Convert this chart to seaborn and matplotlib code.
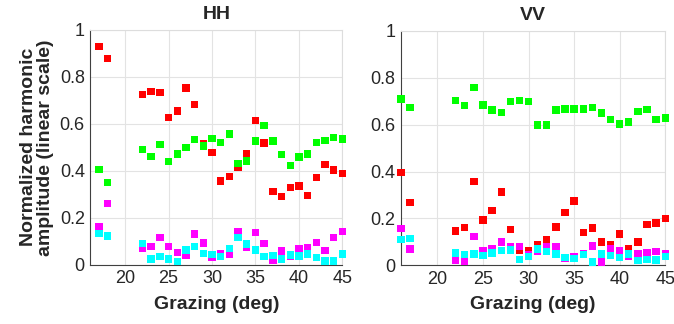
import pandas as pd
import seaborn as sns
import matplotlib.pyplot as plt

# grazing angles (deg)
hh_grazing = [17, 18, 22, 23, 24, 25, 26, 27, 28, 29, 30, 31, 32, 33, 34, 35, 36, 37, 38, 39, 40, 41, 42, 43, 44, 45]
vv_grazing = [16, 17, 22, 23, 24, 25, 26, 27, 28, 29, 30, 31, 32, 33, 34, 35, 36, 37, 38, 39, 40, 41, 42, 43, 44, 45]

# HH normalized harmonic amplitudes
hh_red = [0.93, 0.877, 0.725, 0.736, 0.732, 0.627, 0.655, 0.753, 0.683, 0.517, 0.477, 0.356, 0.376,
          0.413, 0.471, 0.613, 0.518, 0.312, 0.289, 0.329, 0.335, 0.294, 0.37, 0.427, 0.403, 0.389]
hh_green = [0.406, 0.349, 0.491, 0.461, 0.512, 0.438, 0.471, 0.5, 0.532, 0.506, 0.538, 0.521, 0.556,
            0.431, 0.441, 0.526, 0.592, 0.526, 0.468, 0.423, 0.458, 0.471, 0.521, 0.529, 0.542, 0.535]
hh_magenta = [0.161, 0.26, 0.07, 0.077, 0.117, 0.077, 0.051, 0.041, 0.13, 0.092, 0.03, 0.046, 0.046,
              0.14, 0.072, 0.136, 0.091, 0.017, 0.058, 0.035, 0.07, 0.074, 0.095, 0.06, 0.117, 0.141]
hh_cyan = [0.134, 0.122, 0.091, 0.024, 0.034, 0.024, 0.014, 0.062, 0.077, 0.048, 0.044, 0.034, 0.07,
           0.117, 0.088, 0.062, 0.034, 0.038, 0.024, 0.041, 0.037, 0.046, 0.031, 0.016, 0.016, 0.046]

# VV normalized harmonic amplitudes
vv_red = [0.397, 0.268, 0.146, 0.161, 0.357, 0.194, 0.235, 0.312, 0.153, 0.063, 0.063, 0.087, 0.109,
          0.164, 0.225, 0.274, 0.14, 0.159, 0.099, 0.09, 0.134, 0.073, 0.099, 0.173, 0.181, 0.2]
vv_green = [0.709, 0.673, 0.704, 0.681, 0.758, 0.684, 0.663, 0.652, 0.699, 0.704, 0.699, 0.599, 0.599,
            0.663, 0.667, 0.667, 0.667, 0.672, 0.649, 0.622, 0.602, 0.611, 0.656, 0.664, 0.622, 0.628]
vv_magenta = [0.156, 0.069, 0.023, 0.016, 0.123, 0.062, 0.07, 0.099, 0.078, 0.08, 0.045, 0.06, 0.078,
              0.078, 0.03, 0.035, 0.05, 0.083, 0.014, 0.073, 0.063, 0.038, 0.049, 0.052, 0.059, 0.049]
vv_cyan = [0.109, 0.114, 0.052, 0.045, 0.049, 0.042, 0.052, 0.062, 0.066, 0.026, 0.038, 0.069, 0.059,
           0.049, 0.033, 0.028, 0.046, 0.014, 0.049, 0.042, 0.033, 0.048, 0.02, 0.026, 0.023, 0.038]

x_ticks = [20, 25, 30, 35, 40, 45]
y_ticks = [0, 0.2, 0.4, 0.6, 0.8, 1]
y_ticklabels = ["0", "0.2", "0.4", "0.6", "0.8", "1"]

colors = {"h1": "#ff0000", "h2": "#00ff00", "h3": "#ff00ff", "h4": "#00ffff"}


def long_df(grazing, series):
    parts = []
    for name, vals in series.items():
        parts.append(pd.DataFrame({"grazing": grazing, "amp": vals, "harmonic": name}))
    return pd.concat(parts, ignore_index=True)


hh_df = long_df(hh_grazing, {"h1": hh_red, "h2": hh_green, "h3": hh_magenta, "h4": hh_cyan})
vv_df = long_df(vv_grazing, {"h1": vv_red, "h2": vv_green, "h3": vv_magenta, "h4": vv_cyan})

sns.set_style("white")
plt.rcParams["font.family"] = ["Liberation Sans", "DejaVu Sans"]

fig = plt.figure(figsize=(6.74, 3.24), dpi=100)
ax1 = fig.add_axes([0.134, 0.183, 0.374, 0.725])
ax2 = fig.add_axes([0.595, 0.181, 0.392, 0.724])

for ax, df, title in [(ax1, hh_df, "HH"), (ax2, vv_df, "VV")]:
    sns.scatterplot(data=df, x="grazing", y="amp", hue="harmonic", palette=colors,
                    marker="s", s=28, linewidth=0, legend=False, ax=ax,
                    clip_on=False, zorder=3)
    ax.set_xlim(16, 45)
    ax.set_ylim(0, 1)
    ax.set_xticks(x_ticks)
    ax.set_yticks(y_ticks)
    ax.set_yticklabels(y_ticklabels)
    ax.grid(True, color="#e3e3e3", linewidth=0.8)
    ax.set_axisbelow(True)
    ax.tick_params(direction="in", length=3, width=0.8, colors="#262626",
                   labelsize=13, pad=4, top=False, right=False)
    for side in ["left", "bottom"]:
        ax.spines[side].set_color("#404040")
        ax.spines[side].set_linewidth(0.8)
    for side in ["top", "right"]:
        ax.spines[side].set_color("#dddddd")
        ax.spines[side].set_linewidth(0.8)
    ax.set_title(title, fontsize=14, fontweight="bold", pad=8)
    ax.set_xlabel("Grazing (deg)", fontsize=14, fontweight="bold", labelpad=6)
    ax.set_ylabel("")

ax1.set_ylabel("Normalized harmonic\namplitude (linear scale)", fontsize=14,
               fontweight="bold", labelpad=4, linespacing=1.0)

fig.savefig("out.png", dpi=100)
